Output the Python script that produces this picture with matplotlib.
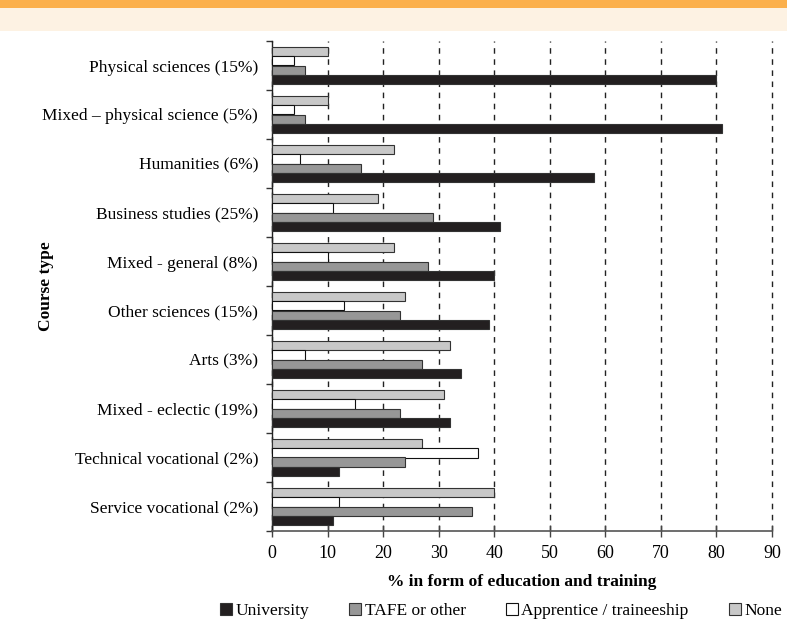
import matplotlib
matplotlib.use("Agg")
import matplotlib.pyplot as plt
import numpy as np
from matplotlib.patches import Rectangle

categories = ["Physical sciences (15%)", "Mixed – physical science (5%)", "Humanities (6%)",
              "Business studies (25%)", "Mixed - general (8%)", "Other sciences (15%)",
              "Arts (3%)", "Mixed - eclectic (19%)", "Technical vocational (2%)",
              "Service vocational (2%)"]
none_vals = [10, 10, 22, 19, 22, 24, 32, 31, 27, 40]
apprentice_vals = [4, 4, 5, 11, 10, 13, 6, 15, 37, 12]
tafe_vals = [6, 6, 16, 29, 28, 23, 27, 23, 24, 36]
university_vals = [80, 81, 58, 41, 40, 39, 34, 32, 12, 11]
xticks = [0, 10, 20, 30, 40, 50, 60, 70, 80, 90]

plt.rcParams['font.family'] = ['Liberation Serif', 'DejaVu Serif']

W, H = 787, 621
fig = plt.figure(figsize=(W/100, H/100), dpi=100)

# header bands
fig.patches.append(Rectangle((0, 1 - 8/H), 1, 8/H, transform=fig.transFigure,
                             facecolor='#FBB04C', edgecolor='none', zorder=0))
fig.patches.append(Rectangle((0, 1 - 31/H), 1, 23/H, transform=fig.transFigure,
                             facecolor='#FDF2E3', edgecolor='none', zorder=0))

left, right, top, bottom = 272, 772, 41, 531
ax = fig.add_axes([left/W, 1 - bottom/H, (right-left)/W, (bottom-top)/H])

y = np.arange(len(categories))
h = 0.185
ec = '#333333'
lw = 0.8
ax.barh(y - 1.5*h, none_vals, height=h, color='#C8C8C8', edgecolor=ec, linewidth=lw, label='None', zorder=3)
ax.barh(y - 0.5*h, apprentice_vals, height=h, color='white', edgecolor='#111111', linewidth=lw, label='Apprentice / traineeship', zorder=3)
ax.barh(y + 0.5*h, tafe_vals, height=h, color='#979797', edgecolor=ec, linewidth=lw, label='TAFE or other', zorder=3)
ax.barh(y + 1.5*h, university_vals, height=h, color='#231F20', edgecolor=ec, linewidth=lw, label='University', zorder=3)

ax.set_xlim(0, 90)
ax.set_ylim(len(categories) - 0.5, -0.5)
ax.set_xticks(xticks)
ax.set_xticklabels([str(v) for v in xticks], fontsize=13)
ax.set_yticks(y)
ax.set_yticklabels(categories, fontsize=12.5)
ax.set_yticks(np.arange(-0.5, len(categories), 1.0), minor=True)
ax.tick_params(axis='y', which='major', length=0, pad=10)
ax.tick_params(axis='y', which='minor', length=4, width=1, color='#333333', direction='out')
ax.tick_params(axis='x', which='major', length=8, width=1, color='#444444', direction='inout', pad=6)

for s in ['top', 'right']:
    ax.spines[s].set_visible(False)
ax.spines['left'].set_color('#222222')
ax.spines['bottom'].set_color('#555555')
ax.spines['left'].set_linewidth(1)
ax.spines['bottom'].set_linewidth(1.2)

ax.xaxis.grid(True, linestyle=(0, (4, 4)), color='#222222', linewidth=1, zorder=0)
ax.set_axisbelow(True)
for gl in ax.get_xgridlines():
    gl.set_clip_on(False)

ax.set_xlabel('% in form of education and training', fontsize=12.5, fontweight='bold', labelpad=9)
fig.text(46/W, 1 - 286/H, 'Course type', rotation=90, fontsize=12.5, fontweight='bold',
         ha='center', va='center')

handles, labels = ax.get_legend_handles_labels()
order = [3, 2, 1, 0]
leg = fig.legend([handles[i] for i in order], [labels[i] for i in order],
                 loc='center', bbox_to_anchor=(501/W, 10/H), ncol=4, frameon=False,
                 fontsize=12.5, handlelength=0.7, handleheight=0.7, handletextpad=0.2,
                 columnspacing=2.3, borderpad=0, borderaxespad=0)

fig.savefig('out.png', dpi=100)
